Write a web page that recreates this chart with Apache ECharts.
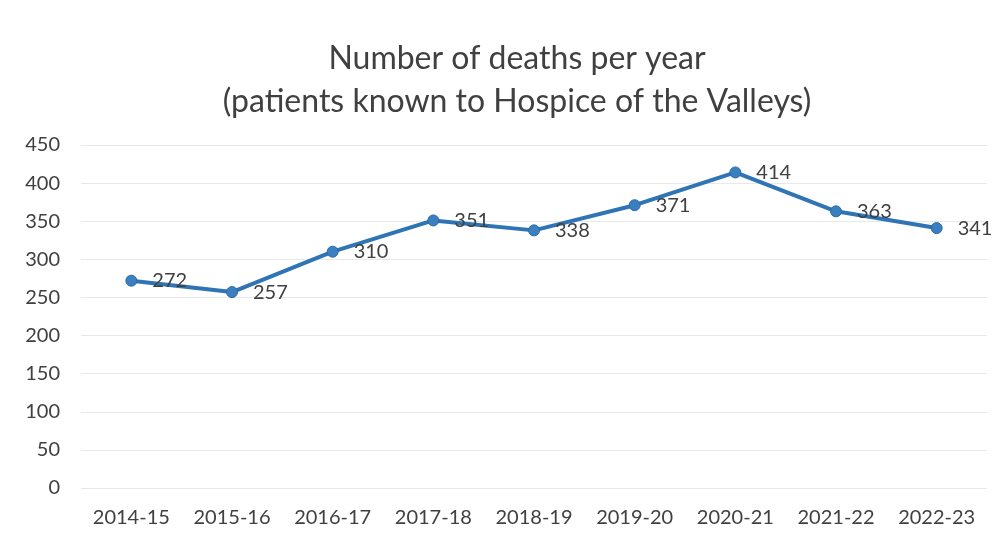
<!DOCTYPE html>
<html>
<head>
<meta charset="utf-8">
<script src="https://cdn.jsdelivr.net/npm/echarts@6/dist/echarts.min.js"></script>
<style>html,body{margin:0;padding:0;background:#fff;}#c{width:1002px;height:545px;}</style>
</head>
<body>
<div id="c"></div>
<script>
const categories = ['2014-15','2015-16','2016-17','2017-18','2018-19','2019-20','2020-21','2021-22','2022-23'];
const deaths = [272, 257, 310, 351, 338, 371, 414, 363, 341];
const titleLines = ['Number of deaths per year', '(patients known to Hospice of the Valleys)'];

const chart = echarts.init(document.getElementById('c'));
chart.setOption({
  backgroundColor: '#ffffff',
  animation: false,
  textStyle: { fontFamily: 'Lato, "Open Sans", sans-serif' },
  title: {
    text: titleLines.join('\n'),
    left: 512,
    textAlign: 'center',
    top: 32,
    textStyle: { fontSize: 32, fontWeight: 'normal', color: '#404040', lineHeight: 43, fontFamily: 'Lato, "Open Sans", sans-serif' }
  },
  grid: { left: 81, right: 15, top: 145, bottom: 57, containLabel: false },
  xAxis: {
    type: 'category',
    data: categories,
    boundaryGap: true,
    axisLine: { show: false },
    axisTick: { show: false },
    axisLabel: { color: '#404040', fontSize: 20, margin: 20 }
  },
  yAxis: {
    type: 'value',
    min: 0, max: 450, interval: 50,
    axisLine: { show: false },
    axisTick: { show: false },
    axisLabel: { color: '#404040', fontSize: 20, margin: 21 },
    splitLine: { lineStyle: { color: '#e8e8e8', width: 1 } }
  },
  series: [{
    type: 'line',
    data: deaths,
    symbol: 'circle',
    symbolSize: 11,
    lineStyle: { color: '#2f74b5', width: 4 },
    itemStyle: { color: '#3a80c0', borderColor: '#2a6aa8', borderWidth: 1 },
    label: { show: true, position: 'right', distance: 15, color: '#404040', fontSize: 20 }
  }]
});
</script>
</body>
</html>
